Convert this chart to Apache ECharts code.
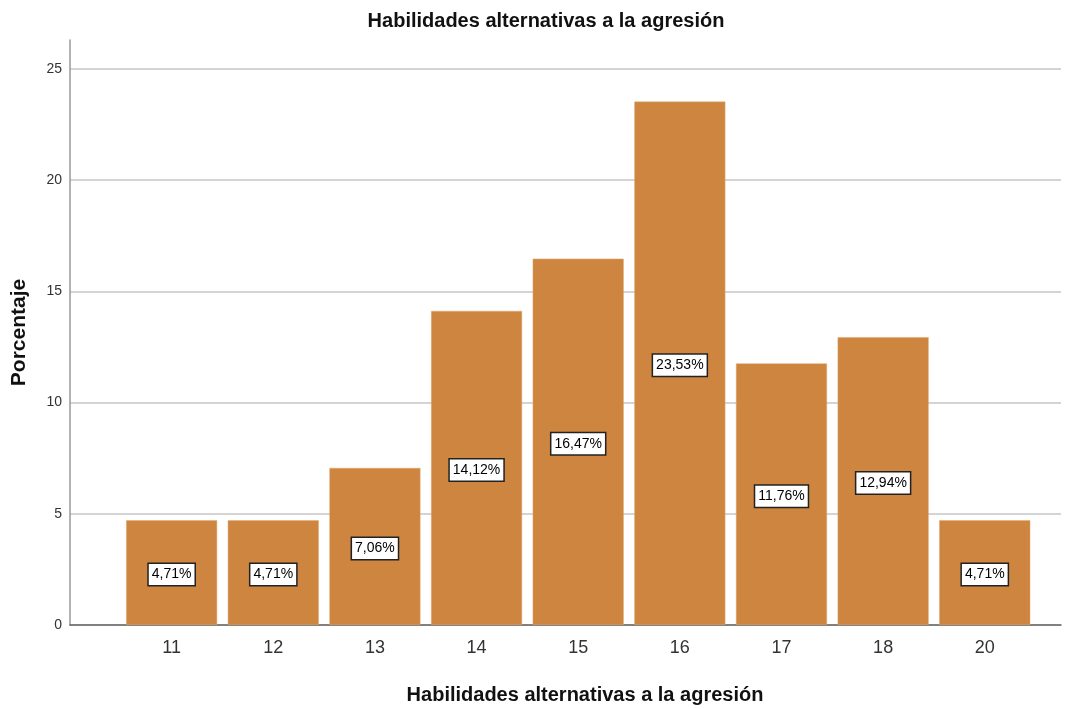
<!DOCTYPE html>
<html><head><meta charset="utf-8">
<script src="https://cdn.jsdelivr.net/npm/echarts@6/dist/echarts.min.js"></script>
<style>html,body{margin:0;padding:0;background:#fff}#c{width:1077px;height:709px}</style>
</head><body><div id="c"></div>
<script>
var categories = ['11','12','13','14','15','16','17','18','20'];
var percentages = [4.71, 4.71, 7.06, 14.12, 16.47, 23.53, 11.76, 12.94, 4.71];
var yTicks = [0, 5, 10, 15, 20, 25];

var chart = echarts.init(document.getElementById('c'));
var font = '"Liberation Sans", Arial, sans-serif';
chart.setOption({
  animation: false,
  title: [
    {text: 'Habilidades alternativas a la agresión', left: 541, top: 6, textAlign: 'center',
     textStyle: {fontFamily: font, fontSize: 20, fontWeight: 'bold', color: '#111'}},
    {text: 'Habilidades alternativas a la agresión', left: 580, top: 680, textAlign: 'center',
     textStyle: {fontFamily: font, fontSize: 20, fontWeight: 'bold', color: '#111'}}
  ],
  grid: {left: 70, right: 16, top: 40, bottom: 84, containLabel: false, outerBoundsMode: 'none'},
  xAxis: {
    type: 'value', min: -1, max: 8.75, interval: 1,
    axisLine: {show: true, onZero: false, lineStyle: {color: '#666', width: 1.5}},
    axisTick: {show: false},
    splitLine: {show: false},
    axisLabel: {
      margin: 14, fontFamily: font, fontSize: 18, color: '#333',
      formatter: function (v) {
        var i = Math.round(v);
        return (Math.abs(v - i) < 1e-6 && i >= 0 && i < categories.length) ? categories[i] : '';
      }
    }
  },
  yAxis: {
    type: 'value', min: 0, max: 26.3, interval: 5,
    name: 'Porcentaje', nameLocation: 'middle', nameGap: 40, nameRotate: 90,
    nameTextStyle: {fontFamily: font, fontSize: 21, fontWeight: 'bold', color: '#111'},
    axisLine: {show: true, onZero: false, lineStyle: {color: '#999', width: 1.5}},
    axisTick: {show: false},
    splitLine: {show: true, showMaxLine: false, lineStyle: {color: '#d4d4d4', width: 2}},
    axisLabel: {
      margin: 8, fontFamily: font, fontSize: 14, color: '#333', showMaxLabel: false,
      formatter: function (v) { return yTicks.indexOf(v) >= 0 ? String(v) : ''; }
    }
  },
  series: [{
    type: 'bar',
    barWidth: 91,
    data: percentages.map(function (v, i) { return [i, v]; }),
    itemStyle: {color: '#CD853F', borderColor: '#E0A870', borderWidth: 0.5},
    label: {
      show: true, position: 'inside', offset: [0, 2],
      formatter: function (p) { return p.value[1].toFixed(2).replace('.', ',') + '%'; },
      fontFamily: font, fontSize: 14, color: '#000',
      backgroundColor: '#fff', borderColor: '#222', borderWidth: 1.5,
      padding: [4, 3, 3, 3]
    }
  }]
});
</script></body></html>
